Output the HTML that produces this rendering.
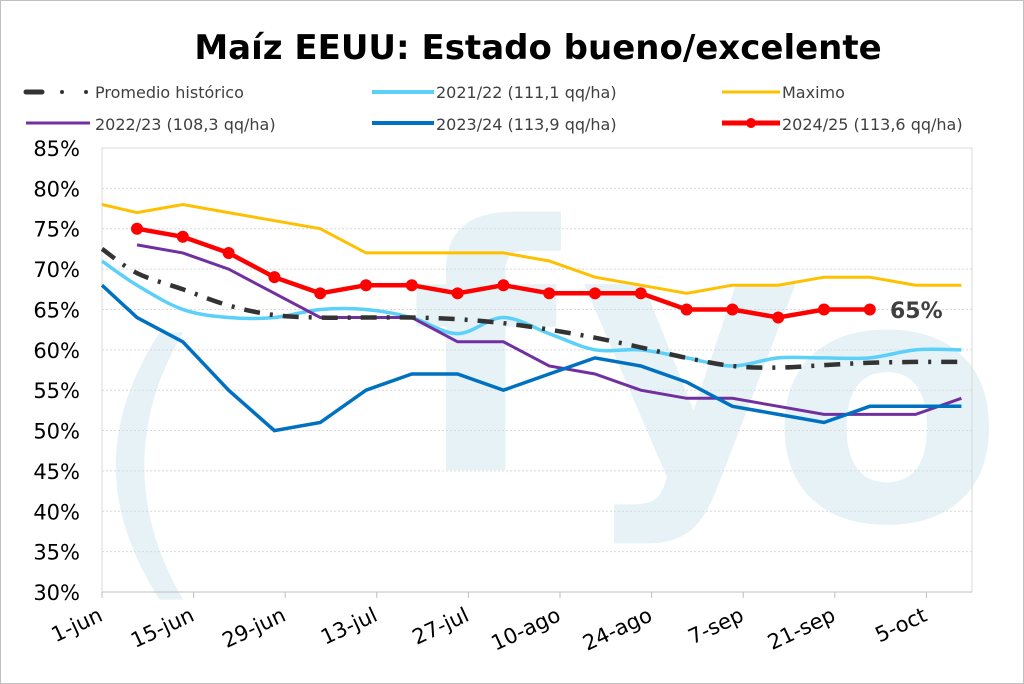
<!DOCTYPE html>
<html><head><meta charset="utf-8"><style>
html,body{margin:0;padding:0;background:#fff}
svg{display:block}
text{font-family:"DejaVu Sans","Liberation Sans",sans-serif}
</style></head><body>
<svg id="s" width="1024" height="684" xmlns="http://www.w3.org/2000/svg">
<rect x="0.5" y="0.5" width="1023" height="683" fill="#fff" stroke="#bfbfbf"/>
<g fill="#e6f2f6" font-family="DejaVu Sans,sans-serif" font-weight="bold">
<text x="410" y="470" font-size="340">f</text>
<text x="580" y="470" font-size="340">y</text>
<text x="770" y="520" font-size="340">o</text>
<text x="90" y="560" font-size="300" font-weight="normal">(</text>
</g>
<text x="538" y="59" text-anchor="middle" font-size="34" font-weight="bold" fill="#000">Maíz EEUU: Estado bueno/excelente</text>
<g font-size="16" fill="#404040">
<line x1="26" y1="92" x2="42" y2="92" stroke="#333" stroke-width="5" stroke-linecap="round"/>
<circle cx="62" cy="92" r="2" fill="#333"/><circle cx="86" cy="92" r="2" fill="#333"/>
<text x="95" y="98">Promedio histórico</text>
<line x1="372" y1="92" x2="434" y2="92" stroke="#5bd0f8" stroke-width="4"/>
<text x="436" y="98">2021/22 (111,1 qq/ha)</text>
<line x1="722" y1="92" x2="780" y2="92" stroke="#ffc000" stroke-width="3"/>
<text x="782" y="98">Maximo</text>
<line x1="26" y1="123" x2="90" y2="123" stroke="#7030a0" stroke-width="3"/>
<text x="95" y="130">2022/23 (108,3 qq/ha)</text>
<line x1="372" y1="123" x2="434" y2="123" stroke="#0070c0" stroke-width="4"/>
<text x="436" y="130">2023/24 (113,9 qq/ha)</text>
<line x1="722" y1="123" x2="780" y2="123" stroke="#ff0000" stroke-width="5"/>
<circle cx="751" cy="123" r="5" fill="#ff0000"/>
<text x="782" y="130">2024/25 (113,6 qq/ha)</text>
</g>
<g id="grid"></g>
<g id="series"></g>
<text x="890" y="318" font-size="22" font-weight="bold" fill="#404040">65%</text>
</svg>
<script>
var NS="http://www.w3.org/2000/svg";
function Y(v){return 148+(85-v)*8.073;}
function el(p,t,a,txt){var e=document.createElementNS(NS,t);for(var k in a)e.setAttribute(k,a[k]);if(txt)e.textContent=txt;document.getElementById(p).appendChild(e);return e;}
for(var v=30;v<=85;v+=5){
 if(v>30&&v<85) el("grid","line",{x1:102,x2:972,y1:Y(v),y2:Y(v),stroke:"#d9d9d9","stroke-dasharray":"2,2"});
 el("grid","text",{x:80,y:Y(v)+8,"text-anchor":"end","font-size":"21",fill:"#000"},v+"%");
}
el("grid","rect",{x:102,y:148,width:870,height:444,fill:"none",stroke:"#d9d9d9"});
el("grid","line",{x1:102,x2:972,y1:592,y2:592,stroke:"#bfbfbf"});
var labs=["1-jun","15-jun","29-jun","13-jul","27-jul","10-ago","24-ago","7-sep","21-sep","5-oct"];
for(var i=0;i<labs.length;i++){
 var x=102+i*91.6;
 el("grid","line",{x1:x,x2:x,y1:592,y2:598,stroke:"#bfbfbf"});
 el("grid","text",{x:x+2,y:620,"text-anchor":"end","font-size":"21",fill:"#000",transform:"rotate(-25 "+(x+2)+" 620)"},labs[i]);
}
function X(i){return 137+45.8*(i-1);}
function pts(start,arr){var r=[];for(var i=0;i<arr.length;i++){var x=start==0&&i==0?102:X(start+i);if(start==0&&i>0)x=X(i);r.push([x,Y(arr[i])]);}return r;}
function lin(p){return "M"+p.map(function(q){return q[0].toFixed(1)+","+q[1].toFixed(1)}).join("L");}
function smooth(p){var d="M"+p[0][0]+","+p[0][1];for(var i=0;i<p.length-1;i++){var p0=p[i-1]||p[i],p1=p[i],p2=p[i+1],p3=p[i+2]||p2;var c1x=p1[0]+(p2[0]-p0[0])/6,c1y=p1[1]+(p2[1]-p0[1])/6,c2x=p2[0]-(p3[0]-p1[0])/6,c2y=p2[1]-(p3[1]-p1[1])/6;d+="C"+c1x+","+c1y+" "+c2x+","+c2y+" "+p2[0]+","+p2[1];}return d;}
var mx=pts(0,[78,77,78,77,76,75,72,72,72,72,71,69,68,67,68,68,69,69,68,68]);
var avg=pts(0,[72.5,69.5,67.5,65.5,64.3,64,64,64,63.8,63.3,62.5,61.5,60.3,59,58,57.8,58.1,58.4,58.5,58.5]);
var a21=pts(0,[71,68,65,64,64,65,65,64,62,64,62,60,60,59,58,59,59,59,60,60]);
var a22=pts(1,[73,72,70,67,64,64,64,61,61,58,57,55,54,54,53,52,52,52,54]);
var a23=pts(0,[68,64,61,55,50,51,55,57,57,55,57,59,58,56,53,52,51,53,53,53]);
var a24=pts(1,[75,74,72,69,67,68,68,67,68,67,67,67,65,65,64,65,65]);
el("series","path",{d:lin(mx),fill:"none",stroke:"#ffc000","stroke-width":3});
el("series","path",{d:smooth(a21),fill:"none",stroke:"#5bd0f8","stroke-width":3.5});
el("series","path",{d:lin(a22),fill:"none",stroke:"#7030a0","stroke-width":3});
el("series","path",{d:lin(a23),fill:"none",stroke:"#0070c0","stroke-width":3.5});
el("series","path",{d:smooth(avg),fill:"none",stroke:"#333","stroke-width":4.5,"stroke-dasharray":"16,10,3,10","stroke-linecap":"butt"});
el("series","path",{d:lin(a24),fill:"none",stroke:"#ff0000","stroke-width":4.5});
a24.forEach(function(q){el("series","circle",{cx:q[0],cy:q[1],r:6,fill:"#ff0000"});});
</script>
</body></html>
